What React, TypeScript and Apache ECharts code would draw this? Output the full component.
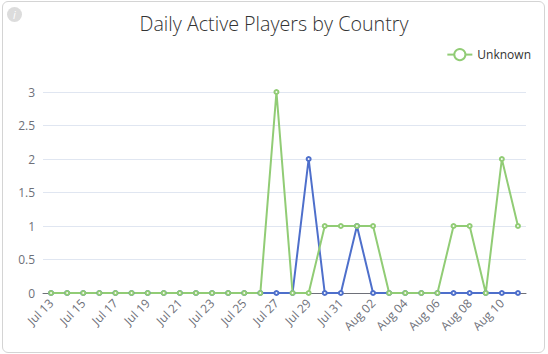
import React, { useEffect, useRef } from "react";
import * as echarts from "echarts";

const categories = ["Jul 13","Jul 14","Jul 15","Jul 16","Jul 17","Jul 18","Jul 19","Jul 20","Jul 21","Jul 22","Jul 23","Jul 24","Jul 25","Jul 26","Jul 27","Jul 28","Jul 29","Jul 30","Jul 31","Aug 01","Aug 02","Aug 03","Aug 04","Aug 05","Aug 06","Aug 07","Aug 08","Aug 09","Aug 10","Aug 11"];
const otherValues = [0,0,0,0,0,0,0,0,0,0,0,0,0,0,0,0,2,0,0,1,0,0,0,0,0,0,0,0,0,0];
const unknownValues = [0,0,0,0,0,0,0,0,0,0,0,0,0,0,3,0,0,1,1,1,1,0,0,0,0,1,1,0,2,1];
const yTicks = [0, 0.5, 1, 1.5, 2, 2.5, 3];
const titleText = "Daily Active Players by Country";
const FONT = "'Open Sans', sans-serif";

export default function App() {
  const ref = useRef<HTMLDivElement>(null);
  useEffect(() => {
    document.body.style.margin = "0";
    const chart = echarts.init(ref.current!, undefined, { renderer: "svg" });
    chart.setOption({
      animation: false,
      textStyle: { fontFamily: FONT },
      title: {
        text: titleText, left: "center", top: 8,
        textStyle: { color: "#333", fontSize: 19.7, fontWeight: 300, fontFamily: FONT },
      },
      legend: {
        data: ["Unknown"], right: 12, top: 43, itemWidth: 25, itemHeight: 14, itemGap: 10,
        textStyle: { color: "#333", fontSize: 12, fontFamily: FONT },
      },
      grid: { left: 43, right: 22, top: 92, bottom: 61 },
      xAxis: {
        type: "category", data: categories,
        axisLabel: { rotate: 45, interval: 1, color: "#6e7079", fontSize: 12, fontFamily: FONT },
        axisTick: { lineStyle: { color: "#6e7079" } },
        axisLine: { lineStyle: { color: "#6e7079" } },
      },
      yAxis: {
        type: "value", min: yTicks[0], max: yTicks[yTicks.length - 1], interval: yTicks[1] - yTicks[0],
        axisLabel: { color: "#6e7079", fontSize: 12, fontFamily: FONT },
        splitLine: { lineStyle: { color: "#e0e6f1" } },
      },
      series: [
        { name: "Other", type: "line", data: otherValues, symbol: "emptyCircle", symbolSize: 4, showAllSymbol: true,
          itemStyle: { color: "#4e6fcb" }, lineStyle: { color: "#4e6fcb", width: 2 } },
        { name: "Unknown", type: "line", data: unknownValues, symbol: "emptyCircle", symbolSize: 4, showAllSymbol: true,
          itemStyle: { color: "#91cc75" }, lineStyle: { color: "#91cc75", width: 2 } },
      ],
    });
    return () => chart.dispose();
  }, []);
  return (
    <div style={{ position: "relative", width: 548, height: 354, background: "#fff", overflow: "hidden" }}>
      <div style={{ position: "absolute", left: 2, top: 1, width: 541, height: 350, border: "1px solid #d4d4d4", borderRadius: 6, boxSizing: "content-box" }} />
      <div ref={ref} style={{ position: "absolute", left: 0, top: 0, width: 548, height: 354 }} />
      <div style={{ position: "absolute", left: 7, top: 7, width: 15, height: 15, borderRadius: "50%", background: "#dcdcdc", color: "#fff", fontSize: 11, lineHeight: "15px", textAlign: "center", fontStyle: "italic", fontFamily: FONT }}>i</div>
    </div>
  );
}
